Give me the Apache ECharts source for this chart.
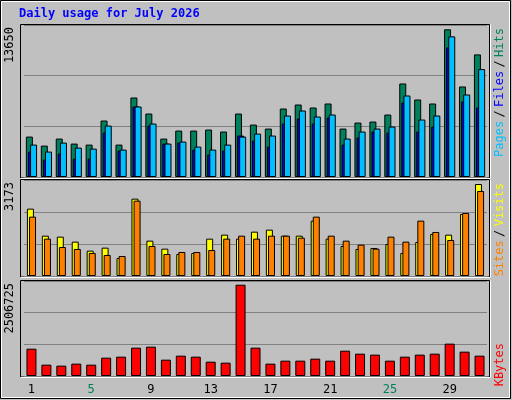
<!DOCTYPE html>
<html><head><meta charset="utf-8">
<script src="https://cdn.jsdelivr.net/npm/echarts@6/dist/echarts.min.js"></script>
<style>html,body{margin:0;padding:0;background:#c0c0c0}#c{width:512px;height:400px}</style>
</head><body><div id="c"></div>
<script>
const days = Array.from({length:31},(_,i)=>String(i+1));
const weekend = [4,5,11,12,18,19,25,26];
const hits  = [3736,2902,3551,3088,2995,5218,2995,7348,5866,3551,4292,4292,4385,4200,5866,4847,4477,6330,6701,6423,6793,4477,5033,5125,5774,8645,7163,6793,13650,8367,11333];
const files = [2347,1606,2162,1698,1698,4106,2439,6516,4756,3088,3180,2532,2069,2439,3829,3366,2810,4940,5403,4940,5496,2995,3644,4200,4107,6886,4200,4663,11981,6979,6423];
const pages = [2995,2347,3180,2717,2624,4756,2532,6516,4940,3088,3273,2810,2532,2995,3736,4014,3829,5681,6145,5589,5774,3551,4200,4477,4663,7534,5310,5681,12999,7627,9974];
const visits = [2323,1391,1357,1185,874,978,621,2668,1219,943,759,794,1288,1426,1288,1529,1598,1391,1391,1909,1288,1035,932,966,1104,794,1173,1449,1426,2139,3173];
const sites  = [2047,1288,1000,932,794,725,690,2599,1035,759,828,828,897,1288,1391,1288,1391,1391,1322,2047,1391,1219,1081,943,1357,1185,1909,1518,1242,2174,2933];
const kbytes = [750000,311000,284000,339000,311000,503000,531000,778000,805000,448000,558000,531000,393000,366000,2506725,778000,339000,421000,421000,476000,421000,695000,613000,586000,421000,531000,586000,613000,888000,668000,558000];
const maxLabels = ["13650","3173","2506725"];

const c = echarts.init(document.getElementById('c'));
const G = [{top:25,h:152},{top:180,h:96},{top:281,h:95}];
const MAX = [14050,3311,2608000];
const grids = G.map(g=>({left:24,width:463,top:g.top,height:g.h,show:false}));
const xAxes = G.map((g,i)=>({gridIndex:i,type:'category',data:days,
  axisLine:{show:false},axisTick:{show:false},
  axisLabel:i<2?{show:false}:{show:true,margin:8,fontFamily:'DejaVu Sans Mono',fontSize:12,
    formatter:v=>weekend.includes(+v)?'{w|'+v+'}':'{n|'+v+'}',
    rich:{w:{color:'#00805c',fontFamily:'DejaVu Sans Mono',fontSize:12},n:{color:'#000',fontFamily:'DejaVu Sans Mono',fontSize:12}}}}));
const yAxes = G.map((g,i)=>({gridIndex:i,type:'value',min:0,max:MAX[i],interval:MAX[i]/3,
  axisLabel:{show:false},axisLine:{show:false},axisTick:{show:false},
  splitLine:{show:true,lineStyle:{color:'#808080',width:1}}}));
const bs = {borderColor:'#000',borderWidth:1};
function bar(i,data,color,w,gap){return {type:'bar',xAxisIndex:i,yAxisIndex:i,data,barWidth:w,barGap:gap,
  itemStyle:Object.assign({color},bs),silent:true,animation:false};}
const frames=[];
G.forEach(g=>frames.push({type:'rect',shape:{x:20.5,y:g.top-0.5,width:469,height:g.h+1.5},
  style:{fill:null,stroke:'#000',lineWidth:1},z:-1},
  {type:'line',shape:{x1:490.5,y1:g.top-0.5,x2:490.5,y2:g.top+g.h+1},style:{stroke:'#fff',lineWidth:1}},
  {type:'line',shape:{x1:20.5,y1:g.top+g.h+1.5,x2:490.5,y2:g.top+g.h+1.5},style:{stroke:'#fff',lineWidth:1}}));
const mono='DejaVu Sans Mono';
function vtext(x,y,rich,text){return {type:'text',x,y,rotation:Math.PI/2,style:{text,rich,font:'12px '+mono,align:'right',verticalAlign:'middle'}};}
c.setOption({
  backgroundColor:'#c0c0c0',animation:false,
  grid:grids,xAxis:xAxes,yAxis:yAxes,
  series:[
    bar(0,hits,'#00805c',7,'-70%'),bar(0,files,'#0000ff',7,'-70%'),bar(0,pages,'#00c0ff',7,'-70%'),
    bar(1,visits,'#ffff00',7,'-70%'),bar(1,sites,'#ff8000',7,'-70%'),
    bar(2,kbytes,'#ff0000',10,'0%')
  ],
  graphic:[
    {type:'rect',shape:{x:0.5,y:0.5,width:510,height:398},style:{fill:null,stroke:'#000',lineWidth:1}},
    {type:'rect',shape:{x:1.5,y:1.5,width:508,height:396},style:{fill:null,stroke:'#fff',lineWidth:1}},
    {type:'text',left:19,top:8,style:{text:'Daily usage for July 2026',font:'bold 12px '+mono,fill:'#0000ff'}},
    ...frames,
    {type:'text',x:10,y:G[0].top+2,rotation:Math.PI/2,style:{text:maxLabels[0],font:'12px '+mono,fill:'#000',align:'right',verticalAlign:'middle'}},
    {type:'text',x:10,y:G[1].top+2,rotation:Math.PI/2,style:{text:maxLabels[1],font:'12px '+mono,fill:'#000',align:'right',verticalAlign:'middle'}},
    {type:'text',x:10,y:G[2].top+2,rotation:Math.PI/2,style:{text:maxLabels[2],font:'12px '+mono,fill:'#000',align:'right',verticalAlign:'middle'}},
    {type:'text',x:500,y:G[0].top+3,rotation:Math.PI/2,style:{text:'{p|Pages} {s|/} {f|Files} {s|/} {h|Hits}',align:'right',verticalAlign:'middle',
      rich:{p:{fill:'#00c0ff',font:'12px '+mono},s:{fill:'#000',font:'12px '+mono},f:{fill:'#0000ff',font:'12px '+mono},h:{fill:'#00805c',font:'12px '+mono}}}},
    {type:'text',x:500,y:G[1].top+3,rotation:Math.PI/2,style:{text:'{a|Sites} {s|/} {b|Visits}',align:'right',verticalAlign:'middle',
      rich:{a:{fill:'#ff8000',font:'12px '+mono},s:{fill:'#000',font:'12px '+mono},b:{fill:'#ffff00',font:'12px '+mono}}}},
    {type:'text',x:500,y:G[2].top+62,rotation:Math.PI/2,style:{text:'KBytes',fill:'#ff0000',font:'12px '+mono,align:'right',verticalAlign:'middle'}}
  ]
});
</script></body></html>
